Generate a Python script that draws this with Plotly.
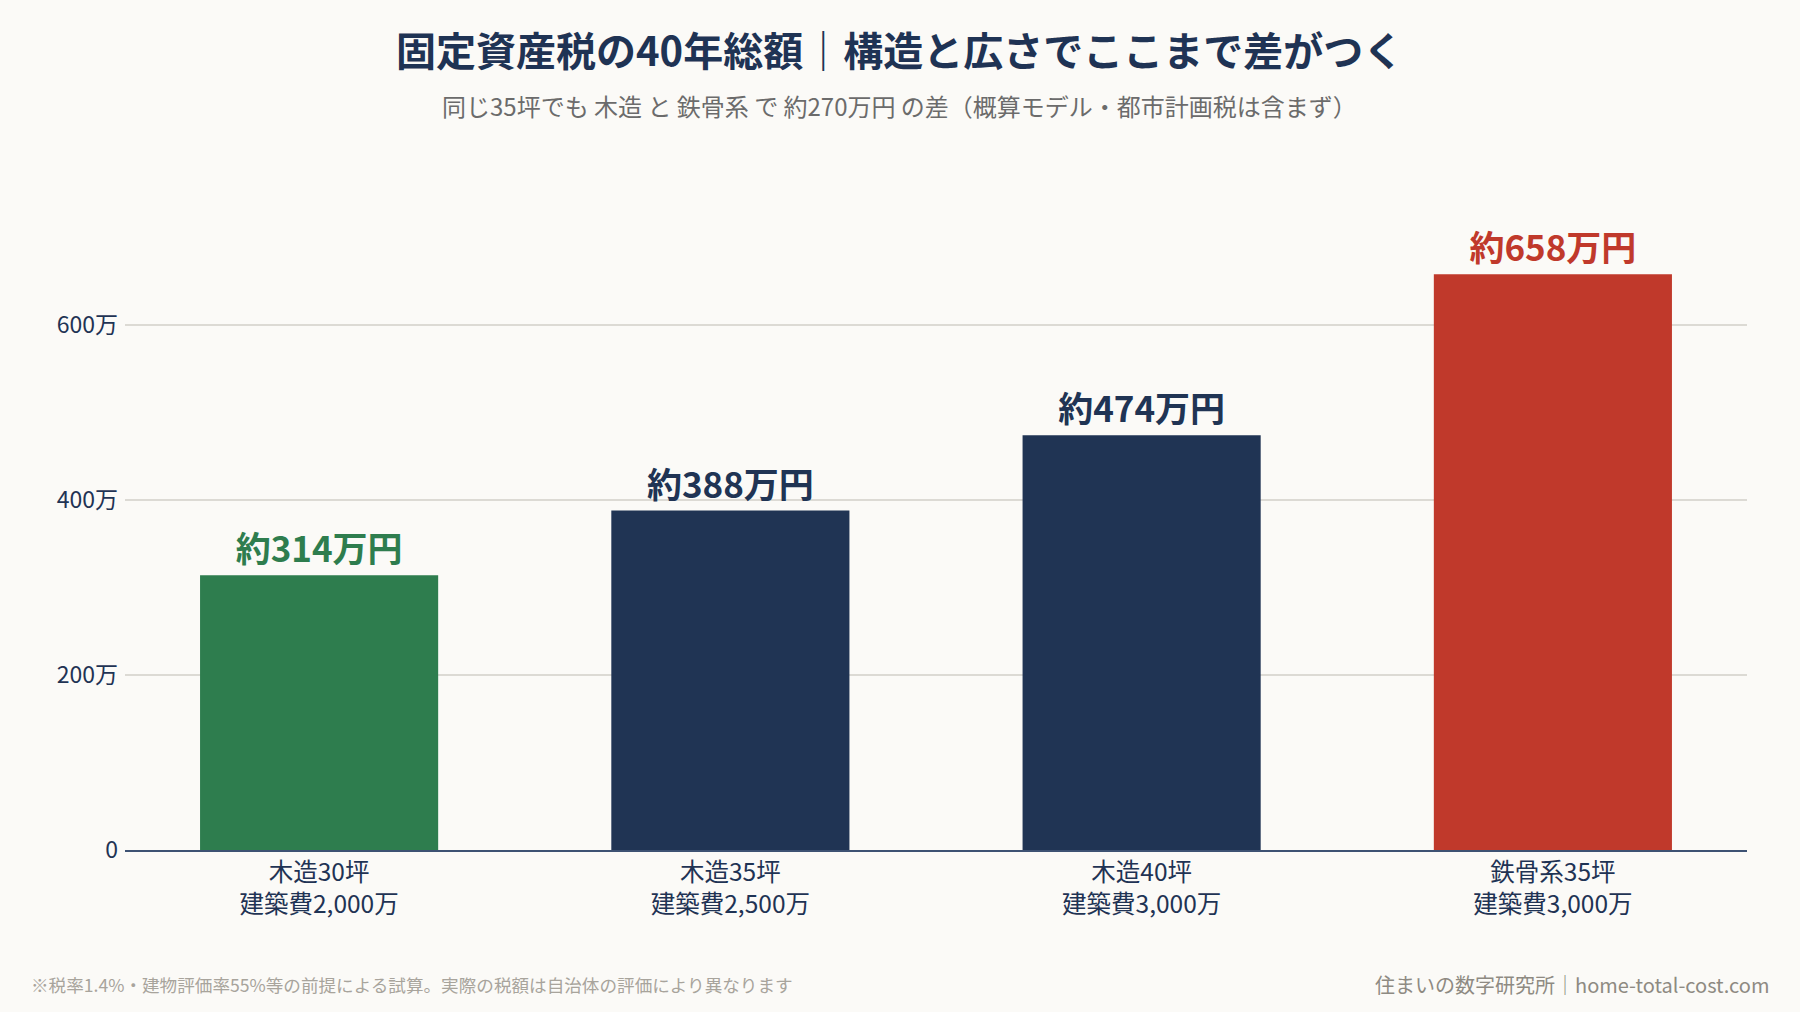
import plotly.graph_objects as go

# data (万円)
categories = ["木造30坪<br>建築費2,000万", "木造35坪<br>建築費2,500万",
              "木造40坪<br>建築費3,000万", "鉄骨系35坪<br>建築費3,000万"]
totals = [314, 388, 474, 658]
bar_labels = ["約314万円", "約388万円", "約474万円", "約658万円"]
y_ticks = [0, 200, 400, 600]
y_tick_labels = ["0", "200万", "400万", "600万"]

GREEN = "#2e7d4e"
NAVY = "#203454"
RED = "#c0392b"
bar_colors = [GREEN, NAVY, NAVY, RED]

FONT = "Noto Sans CJK JP"
BG = "#fbfaf7"

fig = go.Figure()
fig.add_trace(go.Bar(
    x=list(range(len(categories))),
    y=totals,
    width=0.579,
    marker=dict(color=bar_colors, line=dict(width=0)),
    text=bar_labels,
    textposition="outside",
    textfont=dict(family=FONT, size=35, color=bar_colors, weight="bold"),
    cliponaxis=False,
    hoverinfo="skip",
))

fig.update_xaxes(
    tickmode="array",
    tickvals=list(range(len(categories))),
    ticktext=categories,
    range=[-0.472, 3.472],
    showgrid=False,
    showline=True,
    linecolor="#3d5273",
    linewidth=2,
    ticks="",
    tickfont=dict(family=FONT, size=24.5, color="#1f3354"),
    zeroline=False,
)
fig.update_yaxes(
    tickmode="array",
    tickvals=y_ticks,
    ticktext=y_tick_labels,
    range=[0, 720],
    showgrid=True,
    gridcolor="#dcdad4",
    gridwidth=1.5,
    zeroline=False,
    showline=False,
    ticks="",
    ticklabelstandoff=6,
    tickfont=dict(family=FONT, size=23, color="#1f3354"),
)

fig.update_layout(
    width=1800,
    height=1012,
    margin=dict(l=125, r=53, t=220, b=162),
    paper_bgcolor=BG,
    plot_bgcolor=BG,
    showlegend=False,
    font=dict(family=FONT),
    annotations=[
        dict(text="<b>固定資産税の40年総額｜構造と広さでここまで差がつく</b>",
             xref="paper", yref="paper", x=0.4778, y=1.271,
             xanchor="center", yanchor="middle", showarrow=False,
             font=dict(family=FONT, size=40, color="#1f3354")),
        dict(text="同じ35坪でも 木造 と 鉄骨系 で 約270万円 の差（概算モデル・都市計画税は含まず）",
             xref="paper", yref="paper", x=0.4778, y=1.182,
             xanchor="center", yanchor="middle", showarrow=False,
             font=dict(family=FONT, size=24, color="#6b6b6b")),
        dict(text="※税率1.4%・建物評価率55%等の前提による試算。実際の税額は自治体の評価により異なります",
             xref="paper", yref="paper", x=-0.0592, y=-0.214,
             xanchor="left", yanchor="middle", showarrow=False,
             font=dict(family=FONT, size=17.6, color="#a8a49c")),
        dict(text="住まいの数字研究所｜home-total-cost.com",
             xref="paper", yref="paper", x=1.0148, y=-0.214,
             xanchor="right", yanchor="middle", showarrow=False,
             font=dict(family=FONT, size=20, color="#8e8a82")),
    ],
)

# drop the default body margin so the figure fills the window
fig.write_html("out.html", config={"displayModeBar": False}, post_script=(
    "document.body.style.margin='0';"
    "document.body.style.background='%s';" % BG))
